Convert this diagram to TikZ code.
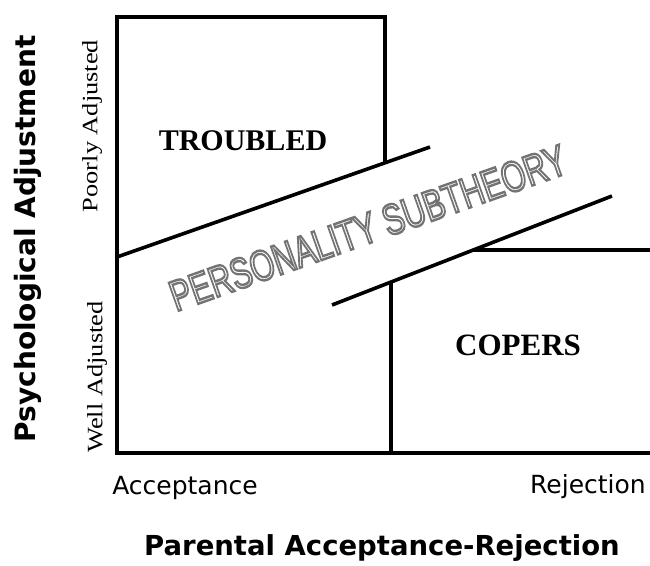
\documentclass[tikz,border=0pt]{standalone}
\usepackage{fontspec}
\usepackage{graphicx}
\setmainfont{Liberation Serif}
\newfontfamily\dejafont{DejaVu Sans}
\newfontfamily\persfont{Liberation Sans}
\newcommand\pstext{\scalebox{0.72}[1]{\fontsize{43}{43}\selectfont\persfont\special{pdf:code 1 Tr 2.4 w}PERSONALITY SUBTHEORY\special{pdf:code 0 Tr}}}
\begin{document}
\begin{tikzpicture}[x=1pt,y=-1pt,
  frame/.style={line width=3.6pt,line join=miter,line cap=butt},
  boxlabel/.style={inner sep=0,anchor=base,font=\fontsize{30}{30}\selectfont\bfseries},
  sidelabel/.style={inner sep=0,rotate=90},
  axlabel/.style={inner sep=0,anchor=base,font=\fontsize{25}{25}\selectfont\dejafont},
  titlelabel/.style={inner sep=0,font=\fontsize{28}{28}\selectfont\dejafont\bfseries},
  persstyle/.style={inner sep=0,rotate=19.5}]
\useasboundingbox (0,0) rectangle (650,565);
% frame coordinates
\coordinate (tl) at (117,17);
\coordinate (tr) at (385,17);
\coordinate (tj) at (385,163);
\coordinate (bl) at (117,453);
\coordinate (br) at (650,453);
\coordinate (d1a) at (117,257);
\coordinate (d1b) at (430,147);
\coordinate (d2a) at (332,305);
\coordinate (d2b) at (612,196);
\coordinate (cb) at (391,453);
\coordinate (ct) at (391,282);
\coordinate (ch) at (473,250);
\coordinate (cr) at (650,250);
% lines
\draw[frame] (tj) -- (tr) -- (tl) -- (bl) -- (br);
\draw[frame] (d1a) -- (d1b);
\draw[frame] (d2a) -- (d2b);
\draw[frame] (cb) -- (ct);
\draw[frame] (ch) -- (cr);
% personality subtheory (outlined)
\node[persstyle,text=black!55] (pers) at (368,228) {\pstext};
% box labels
\node[boxlabel] (troubled) at (243,150) {TROUBLED};
\node[boxlabel,font=\fontsize{31}{31}\selectfont\bfseries] (copers) at (518,355) {COPERS};
% side labels
\node[sidelabel] (poor) at (92,126) {\scalebox{1.2}[1]{\fontsize{22}{22}\selectfont Poorly Adjusted}};
\node[sidelabel] (well) at (97,377) {\scalebox{1.2}[1]{\fontsize{22}{22}\selectfont Well Adjusted}};
\node[titlelabel,rotate=90] (psych) at (28,239) {Psychological Adjustment};
% axis labels
\node[axlabel] (acc) at (185,494) {Acceptance};
\node[axlabel] (rej) at (588,493) {Rejection};
\node[titlelabel,anchor=base,font=\fontsize{27.5}{27.5}\selectfont\dejafont\bfseries] (parent) at (382,555) {Parental Acceptance-Rejection};
\end{tikzpicture}
\end{document}
